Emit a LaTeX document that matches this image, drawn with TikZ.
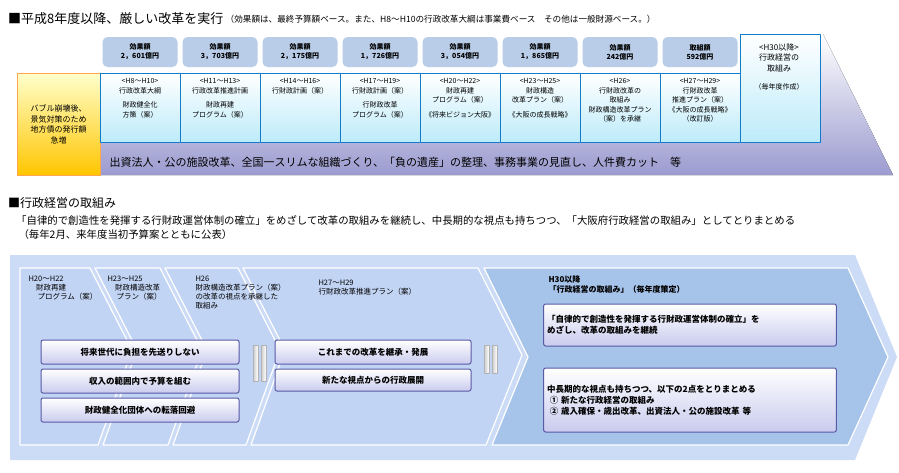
\documentclass[tikz,border=0pt]{standalone}
\usepackage{fontspec}
\setmainfont{Noto Sans CJK JP}
\usetikzlibrary{positioning}
\definecolor{amtblue}{HTML}{B9CDE8}
\definecolor{cellcyan}{HTML}{BDEBFA}
\definecolor{bandpurple}{HTML}{9B9BD0}
\definecolor{pale}{HTML}{CCDBF6}
\definecolor{panel}{HTML}{C2D4F4}
\definecolor{deep}{HTML}{A6C3EA}
\definecolor{btn}{HTML}{C9CBEE}
\tikzset{
  amtbox/.style = {fill = amtblue, rounded corners = 5pt, minimum width = 75pt,
    minimum height = 30pt, align = center, font = \fontsize{7}{9}\selectfont\bfseries},
  cellbox/.style = {top color = white, bottom color = cellcyan, draw = cyan!60!blue,
    minimum width = 80pt, minimum height = 69pt, anchor = north west},
  celltext/.style = {align = center, font = \fontsize{7}{9.5}\selectfont, anchor = north},
  btnbox/.style = {top color = white, bottom color = btn, draw = gray!70!blue,
    line width = 1pt, rounded corners = 2pt, align = center,
    font = \fontsize{8.5}{11}\selectfont\bfseries},
  pnl/.style = {fill = panel, draw = white, line width = 1.2pt},
  plabel/.style = {anchor = north west, align = left, font = \fontsize{7.5}{9}\selectfont}
}
\begin{document}
\begin{tikzpicture}[x = 1pt, y = -1pt, line join = round]
  \useasboundingbox (0, 0) rectangle (899, 472);

  % upper part
  \node[anchor = west, inner sep = 0pt] (title) at (8, 19)
    {\fontsize{13}{14}\selectfont ■平成8年度以降、厳しい改革を実行};
  \node[anchor = west, inner sep = 0pt, font = \fontsize{8.6}{9}\selectfont] (note)
    at (title.east) {\ （効果額は、最終予算額ベース。また、H8～H10の行政改革大綱は事業費ベース　その他は一般財源ベース。）};

  \fill[top color = white, bottom color = bandpurple]
    (100, 142) -- (818, 142) -- (818, 34) -- (823, 34) -- (893, 175) -- (100, 175) -- cycle;
  \node[anchor = west, font = \fontsize{11}{12}\selectfont] (band) at (106, 162)
    {出資法人・公の施設改革、全国一スリムな組織づくり、「負の遺産」の整理、事務事業の見直し、人件費カット　等};

  \node[top color = yellow!20, bottom color = orange!45!yellow, draw = orange!70,
    minimum width = 83pt, minimum height = 102pt, anchor = north west, align = center,
    font = \fontsize{8}{10.5}\selectfont] (bubble) at (17, 73)
    {バブル崩壊後、\\景気対策のため\\地方債の発行額\\急増};

  \foreach \i/\amt in {0/{効果額\\2，601億円}, 1/{効果額\\3，703億円}, 2/{効果額\\2，175億円},
      3/{効果額\\1，726億円}, 4/{効果額\\3，054億円}, 5/{効果額\\1，865億円},
      6/{効果額\\242億円}, 7/{取組額\\592億円}}
    \node[amtbox] (amt\i) at ({140 + 80*\i}, 52) {\amt};

  \foreach \i/\txt in {0/{<H8～H10>\\行政改革大綱\\[5pt]財政健全化\\方策（案）},
      1/{<H11～H13>\\行政改革推進計画\\[5pt]財政再建\\プログラム（案）},
      2/{<H14～H16>\\行財政計画（案）},
      3/{<H17～H19>\\行財政計画（案）\\[5pt]行財政改革\\プログラム（案）},
      4/{<H20～H22>\\財政再建\\プログラム（案）\\[5pt]《将来ビジョン大阪》},
      5/{<H23～H25>\\財政構造\\改革プラン（案）\\[5pt]《大阪の成長戦略》},
      6/{<H26>\\行財政改革の\\取組み\\財政構造改革プラン\\（案）を承継},
      7/{<H27～H29>\\行財政改革\\推進プラン（案）\\《大阪の成長戦略》\\（改訂版）}} {
    \node[cellbox] (cell\i) at ({100 + 80*\i}, 73) {};
    \node[celltext] (ctext\i) at ({140 + 80*\i}, 75) {\txt};
  }
  \node[cellbox, minimum height = 108pt, anchor = north west] (cell8) at (740, 34) {};
  \node[celltext, font = \fontsize{8}{10.5}\selectfont] (ctext8) at (779, 40)
    {<H30以降>\\行政経営の\\取組み\\[8pt]{\fontsize{7}{8}\selectfont（毎年度作成）}};

  % middle text
  \node[anchor = west, inner sep = 0pt] (title2) at (8, 203)
    {\fontsize{12}{12}\selectfont ■行政経営の取組み};
  \node[anchor = north west, align = left, inner sep = 0pt,
    font = \fontsize{10.4}{14}\selectfont] (lead) at (16, 215)
    {「自律的で創造性を発揮する行財政運営体制の確立」をめざして改革の取組みを継続し、中長期的な視点も持ちつつ、「大阪府行政経営の取組み」としてとりまとめる\\
    \ （毎年2月、来年度当初予算案とともに公表）};

  % lower part
  \fill[pale] (10, 255) -- (855, 255) -- (897, 357) -- (855, 460) -- (10, 460) -- cycle;
  \draw[pnl] (20, 268) -- (90, 268) -- (132, 350) -- (98, 445) -- (20, 445) -- cycle;
  \draw[pnl] (95, 268) -- (160, 268) -- (202, 350) -- (168, 445) -- (103, 445) -- (137, 350) -- cycle;
  \draw[pnl] (165, 268) -- (238, 268) -- (280, 350) -- (246, 445) -- (173, 445) -- (207, 350) -- cycle;
  \draw[pnl] (243, 268) -- (478, 268) -- (522, 355) -- (486, 445) -- (251, 445) -- (285, 350) -- cycle;
  \draw[fill = deep, draw = white, line width = 1.2pt]
    (484, 268) -- (848, 268) -- (888, 357) -- (848, 445) -- (492, 445) -- (528, 357) -- cycle;

  \node[plabel] (p1) at (25, 272) {H20～H22\\　財政再建\\　 プログラム（案）};
  \node[plabel] (p2) at (104, 272) {H23～H25\\ 　財政構造改革\\ 　 プラン（案）};
  \node[plabel] (p3) at (192, 272) {H26\\財政構造改革プラン（案）\\の改革の視点を承継した\\取組み};
  \node[plabel] (p4) at (315, 276) {H27～H29\\行財政改革推進プラン（案）};
  \node[plabel, font = \fontsize{8}{10}\selectfont\bfseries] (p5) at (545, 272)
    {H30以降\\「行政経営の取組み」（毎年度策定）};

  \node[btnbox, minimum width = 198pt, minimum height = 24pt] (b1) at (140, 352) {将来世代に負担を先送りしない};
  \node[btnbox, minimum width = 198pt, minimum height = 24pt, below = 4pt of b1] (b2) {収入の範囲内で予算を組む};
  \node[btnbox, minimum width = 198pt, minimum height = 24pt, below = 4pt of b2] (b3) {財政健全化団体への転落回避};
  \node[btnbox, minimum width = 196pt, minimum height = 24pt] (b4) at (373, 352) {これまでの改革を継承・発展};
  \node[btnbox, minimum width = 196pt, minimum height = 22pt, below = 4pt of b4] (b5) {新たな視点からの行政展開};
  \node[btnbox, text width = 286pt, minimum height = 42pt, align = left] (b6) at (690, 325)
    {「自律的で創造性を発揮する行財政運営体制の確立」を\\めざし、改革の取組みを継続};
  \node[btnbox, text width = 286pt, minimum height = 64pt, align = left] (b7) at (690, 400)
    {中長期的な視点も持ちつつ、以下の2点をとりまとめる\\
    \ ① 新たな行政経営の取組み\\ \ ② 歳入確保・歳出改革、出資法人・公の施設改革 等};

  \foreach \x in {253, 261}
    \fill[left color = gray!40, right color = white, draw = gray!60] (\x, 345) rectangle +(5, 36);
  \foreach \x in {484, 492}
    \fill[left color = gray!40, right color = white, draw = gray!60] (\x, 345) rectangle +(5, 28);
\end{tikzpicture}
\end{document}
